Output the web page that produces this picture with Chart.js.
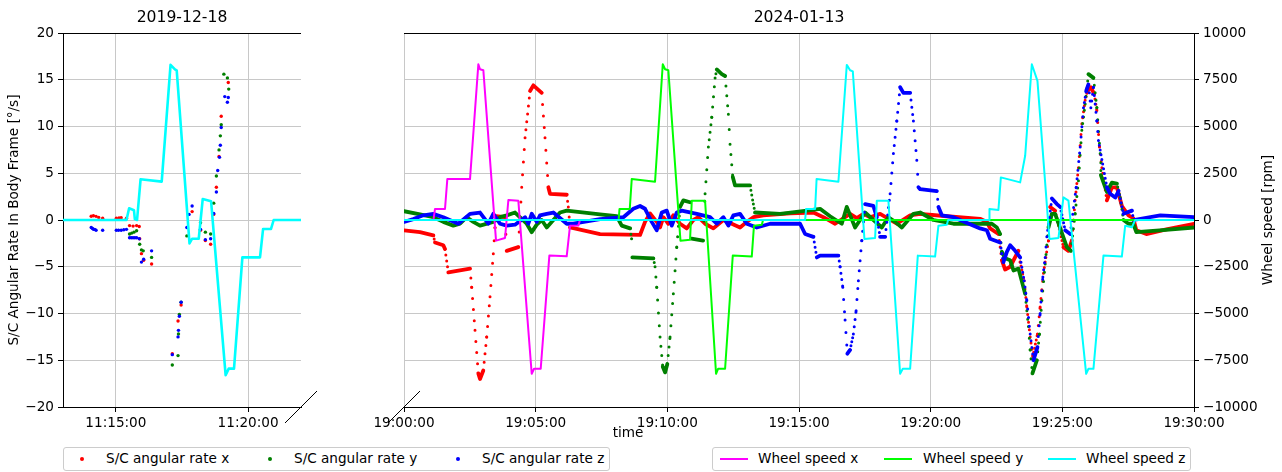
<!DOCTYPE html>
<html>
<head>
  <title>S/C angular rate and wheel speed</title>
  <script src="https://cdn.jsdelivr.net/npm/chart.js"></script>
  <style>
    body { margin: 0; width: 1282px; height: 472px; background: #fff; overflow: hidden; font-family: "DejaVu Sans", sans-serif; }
    .panel { position: absolute; top: 0; height: 440px; }
    .legend { position: absolute; top: 447px; height: 24px; box-sizing: border-box; border: 1px solid #cccccc; border-radius: 3px; background: #fff; }
    .legend span { position: absolute; top: 2px; font-size: 13.6px; line-height: 17px; white-space: nowrap; color: #000; }
    .legend .dot { position: absolute; top: 9px; width: 4px; height: 4px; border-radius: 50%; }
    .legend .line { position: absolute; top: 10px; width: 28px; height: 2px; }
    #xlabel { position: absolute; left: 598px; width: 60px; top: 424px; text-align: center; font-size: 13.6px; }
  </style>
</head>
<body>
  <div class="panel" style="left:0;width:330px"><canvas id="leftChart"></canvas></div>
  <div class="panel" style="left:340px;width:942px"><canvas id="rightChart"></canvas></div>
  <div id="xlabel">time</div>

  <!-- legends -->
  <div class="legend" style="left:63px;width:547px">
    <i class="dot" style="left:16px;background:#ff0000"></i><span style="left:42px">S/C angular rate x</span>
    <i class="dot" style="left:204px;background:#008000"></i><span style="left:230px">S/C angular rate y</span>
    <i class="dot" style="left:392px;background:#0000ff"></i><span style="left:418px">S/C angular rate z</span>
  </div>
  <div class="legend" style="left:712px;width:479px">
    <i class="line" style="left:7px;background:#ff00ff"></i><span style="left:45px">Wheel speed x</span>
    <i class="line" style="left:171px;background:#00ff00"></i><span style="left:210px">Wheel speed y</span>
    <i class="line" style="left:335px;background:#00ffff"></i><span style="left:373px">Wheel speed z</span>
  </div>

<script>
  // ---- 2019-12-18 panel (times in seconds after leftStart) ----
  const leftStart = '11:13:00';
  const leftEnd = 540;
  const leftTickLabels = ['11:15:00', '11:20:00'];

  const leftRateXT = [64, 69, 75, 81, 90, 121, 127, 132, 144, 151, 159, 167, 173, 174, 178, 183, 201, 248, 261, 268, 293, 312, 323, 335, 342, 348, 354, 359, 375];
  const leftRateX = [0.4, 0.46, 0.39, 0.28, 0.18, 0.2, 0.22, 0.25, 0.2, -0.6, -0.65, -0.6, -0.7, -2.0, -3.6, -4.3, -4.7, -14.3, -10.8, -9.1, 0.9, -1.1, -2.2, -2.6, 0.6, 3.5, 6.8, 11.1, 14.7];

  const leftRateYT = [151, 156, 161, 167, 174, 178, 182, 201, 248, 261, 262, 264, 268, 281, 312, 323, 335, 342, 348, 354, 357, 359, 365, 373, 376];
  const leftRateY = [-1.5, -1.4, -1.3, -1.15, -2.6, -3.2, -3.3, -4.0, -15.5, -14.5, -12.2, -10.1, -8.8, -1.7, -0.3, -1.3, -1.5, 1.8, 4.7, 7.5, 9.0, 10.2, 15.6, 15.2, 14.0];

  const leftRateZT = [64, 67, 69, 72, 75, 90, 121, 126, 132, 138, 144, 151, 155, 159, 163, 167, 173, 178, 183, 201, 248, 261, 262, 264, 268, 281, 286, 293, 312, 323, 335, 342, 348, 351, 355, 357, 359, 367, 373, 375];
  const leftRateZ = [-0.8, -0.9, -1.0, -1.0, -1.1, -1.1, -1.1, -1.1, -1.1, -1.05, -1.0, -1.9, -1.9, -1.9, -1.9, -1.9, -2.0, -4.5, -4.2, -3.3, -14.4, -12.5, -11.8, -10.3, -8.8, -0.8, 0.6, 1.5, -1.0, -2.1, -2.0, 0.7, 3.0, 5.3, 6.7, 8.0, 9.9, 13.2, 12.6, 13.1];

  const leftWheelZT = [0, 144, 150, 161, 163, 168, 176, 224, 244, 254, 258, 287, 293, 308, 317, 336, 369, 376, 388, 407, 447, 454, 472, 478, 540];
  const leftWheelZ = [0, 0, 625, 525, 50, 0, 2175, 2050, 8300, 8050, 8000, -1250, -1000, -1000, 1120, 1000, -8300, -7950, -7950, -2000, -2000, -480, -480, 0, 0];

  // ---- 2024-01-13 panel (times in seconds after rightStart) ----
  const rightStart = '19:00:00';
  const rightEnd = 1800;
  const rightTickLabels = ['19:00:00', '19:05:00', '19:10:00', '19:15:00', '19:20:00', '19:25:00', '19:30:00'];

  const rateXT = [0, 36.5, 66.8, 70.6, 89.6, 93.4, 101, 150.4, 154.3, 161.8,
    169.3, 173.2, 180.7, 188.5, 196, 203.5, 207.4, 209.7, 230.2, 234,
    260.5, 268.2, 275.8, 287.2, 294.7, 313.8, 321.3, 328.9, 332.7, 370.8,
    374.4, 378.3, 446.7, 537.8, 549.2, 560.6, 575.9, 583.4, 590.9, 602.3,
    613.7, 629, 644.3, 659.3, 670.7, 686, 704.9, 727.7, 765.7, 781,
    796, 818.8, 879.7, 932.8, 955.6, 982.3, 1016.4, 1031.7, 1046.8, 1062,
    1084.8, 1122.9, 1153.2, 1176, 1236.8, 1312.7, 1328, 1335.5, 1354.4, 1362.2,
    1369.7, 1381.1, 1400, 1403.9, 1413, 1419.1, 1426.7, 1432.8, 1443.3, 1449.4,
    1457, 1462.4, 1468.4, 1472.2, 1483.6, 1502.5, 1513.9, 1521.6, 1529.2, 1536.7,
    1544.4, 1552, 1557.2, 1565, 1572.5, 1578.7, 1584.6, 1590.1, 1601.5, 1612.9,
    1624.3, 1635.7, 1650.8, 1661.6, 1668.6, 1691.4, 1737, 1800];
  const rateX = [-1.1, -1.3, -1.65, -2.4, -2.7, -3.1, -5.6, -5.2, -7.2, -11.8,
    -16.4, -17.0, -16.1, -12.5, -8.2, -3.6, -0.8, 0.4, 0.3, -3.3,
    -2.9, 3.5, 8.8, 13.8, 14.4, 13.6, 8.8, 3.5, 2.8, 2.7,
    1.4, -0.8, -1.5, -1.6, -0.2, 0.7, -0.2, -0.8, 0.3, -0.4,
    0.5, -0.4, -0.9, 0, 0.3, -0.4, -0.9, 0, -0.8, -0.2,
    0.3, 0.5, 0.7, 0.8, 0.3, -0.4, 0.66, 0.2, 0.66, 0.3,
    0.66, -0.4, 0.5, 0.66, 0.4, 0.13, -0.2, -0.9, -1.5, -4.3,
    -5.3, -5.0, -3.3, -4.5, -6.5, -9.3, -12.5, -14.6, -12.2, -9.3,
    -5.7, -4.0, -2.2, 1.4, 1.0, -2.9, -3.3, -2.2, 2.1, 5.6,
    10.3, 12.8, 13.8, 14.2, 13.5, 11.7, 7.8, 5.6, 2.1, 3.5,
    3.5, 1.5, 0.5, 0.2, -1.1, -1.5, -1.0, -0.4];

  const rateYT = [0, 36.5, 66.8, 89.6, 112.4, 127.6, 142.9, 157.9, 173.2, 203.5,
    218.8, 234, 253, 279.6, 291, 302.4, 313.8, 325.2, 340.3, 355.5,
    370.8, 446.7, 484.7, 496.1, 515.1, 518.5, 520.3, 568.2, 572, 575.9,
    583.4, 589.6, 594.8, 600, 606.2, 613.7, 621.5, 629, 636.5, 651.8,
    655.2, 681.4, 686, 693.5, 701.3, 708.8, 712.7, 724.1, 731.6, 739.1,
    742.9, 749.1, 754.3, 788.5, 796, 799.9, 856.9, 917.7, 948, 970.8,
    997.5, 1008.9, 1027.8, 1050.6, 1088.7, 1103.7, 1119, 1134.3, 1160.7, 1176,
    1206.3, 1251.9, 1312.7, 1339.4, 1350.8, 1358.3, 1362.2, 1369.7, 1381.1, 1388.7,
    1400, 1415.3, 1422.8, 1426.7, 1431.9, 1442, 1447.9, 1453.4, 1460.9, 1468.4,
    1476.2, 1483.6, 1510.3, 1519.4, 1529.2, 1536.7, 1544.4, 1552, 1559.5, 1570.9,
    1578.7, 1586.2, 1587.8, 1601.5, 1612.9, 1624.3, 1631.9, 1639.4, 1650.8, 1661.6,
    1668.6, 1721.7, 1800];
  const rateY = [0.94, 0.6, 0.3, -0.2, -0.6, -0.4, 0.3, -0.2, -0.6, -0.2,
    0.3, 0.5, 0.8, -0.4, -1.3, -0.5, 0, -0.8, 0, 0.8,
    1.0, 0.6, 0.4, -0.6, -0.9, -2.0, -4.0, -4.1, -5.0, -7.2,
    -12.5, -15.7, -16.3, -15.4, -12.5, -7.9, -2.9, 1.4, 2.1, 1.9,
    -2.0, -2.2, 2.8, 7.8, 11.0, 15.2, 16.1, 15.6, 15.4, 11.3,
    8.1, 4.6, 3.7, 3.7, 1.7, 0.8, 0.66, 1.0, 1.2, 0.4,
    -0.4, 1.4, -0.8, 0.8, -0.8, 0.3, -0.2, -0.8, 0.66, 0.8,
    0, -0.4, -0.4, -0.4, -0.8, -1.5, -3.4, -4.1, -4.3, -5.4,
    -5.2, -7.9, -11.4, -13.9, -16.4, -15.0, -12.2, -8.6, -4.7, -0.8,
    0.66, 0.66, -2.9, -3.3, 0.7, 4.2, 9.6, 12.4, 15.6, 15.2,
    12.0, 7.1, 4.8, 3.0, 4.0, 3.9, 2.4, 0, -0.4, -0.4,
    -1.3, -1.1, -0.8];

  const rateZT = [0, 21.2, 44, 66.8, 89.6, 123.8, 150.4, 173.2, 192.1, 203.5,
    218.8, 234, 253, 275.8, 283.3, 291, 302.4, 309.9, 325.2, 340.3,
    370.8, 385.8, 446.7, 499.8, 522.5, 537.8, 549.2, 564.5, 575.9, 587.3,
    598.7, 610.1, 621.5, 632.9, 667.1, 697.4, 712.7, 727.7, 739.1, 750.5,
    765.7, 781, 803.8, 834.1, 902.5, 913.9, 932.8, 940.5, 948, 989.7,
    993.6, 999.8, 1005, 1010.2, 1016.4, 1023.9, 1030.1, 1035.3, 1043.1, 1050.6,
    1069.5, 1077.3, 1084.8, 1096.2, 1107.6, 1115.1, 1122.9, 1130.4, 1137.9, 1153.2,
    1160.7, 1168.4, 1172.1, 1176, 1214, 1217.7, 1225.5, 1251.9, 1312.7, 1328,
    1335.5, 1358.3, 1362.2, 1365.8, 1373.6, 1381.1, 1392.5, 1403.9, 1413, 1419.1,
    1426.7, 1434.3, 1443.3, 1449.4, 1455.6, 1460.9, 1464.7, 1476.2, 1487.6, 1495.1,
    1506.5, 1517.9, 1531.6, 1540.7, 1548.2, 1554.4, 1559.5, 1565, 1570.9, 1578.7,
    1582.3, 1601.5, 1609.1, 1620.5, 1628.1, 1639.4, 1658.6, 1662.3, 1723.2, 1800];
  const rateZ = [-0.2, 0.1, 0.5, 0.66, 0.3, -0.4, 0.66, 0.8, -0.4, 0.66,
    -0.4, -0.6, -0.5, 0.3, -0.4, 0.66, -0.2, 0.5, 0.66, 0.8,
    -0.4, -0.4, 0.1, 0.3, 1.2, 1.5, 1.2, -0.2, -1.1, 0.8,
    1.0, -0.6, 0.8, 1.0, 0.66, 0.3, -0.4, 0.3, -0.6, 0.5,
    0.66, -0.4, -0.8, -0.4, -0.4, -1.5, -1.8, -4.0, -3.8, -3.8,
    -5.0, -7.2, -10.7, -14.3, -13.9, -12.2, -9.7, -6.5, -2.2, 1.7,
    1.5, 0.3, -1.8, -1.8, 2.8, 7.1, 10.6, 14.2, 13.6, 13.6,
    10.6, 6.4, 3.5, 3.3, 3.1, 1.4, 0.5, 0.3, -0.9, -1.1,
    -2.0, -2.4, -3.6, -4.5, -3.4, -2.7, -3.3, -4.0, -6.5, -8.6,
    -12.2, -15.0, -13.6, -10.0, -6.1, -4.0, -1.8, 2.3, 1.7, 1.4,
    -1.1, -1.5, 3.5, 7.8, 12.0, 13.8, 14.5, 12.0, 14.2, 10.6,
    8.5, 3.5, 2.8, 2.4, 3.1, 0.66, 1.0, 0, 0.5, 0.3];

  const wheelXT = [0, 67, 70.6, 93.4, 98.7, 150.4, 169.4, 173.2, 180.8, 209.7, 230.2, 237.8, 260.5, 291, 296.3, 311.5, 331.2, 370.7, 378.3, 397.3, 401, 1800];
  const wheelX = [0, 0, 587, 587, 2189, 2189, 8330, 8063, 8010, -1104, -961, 1068, 1032, -8224, -7957, -7957, -1905, -1940, -303, -300, 0, 0];

  const wheelYT = [0, 489, 491, 514.4, 518.9, 572, 589.6, 594.8, 602.3, 629.9, 651.8, 655.7, 686, 711, 715.6, 731.6, 749.1, 792.4, 797.4, 815.2, 818.2, 1800];
  const wheelY = [0, 0, 587, 587, 2189, 2047, 8330, 8063, 8010, -1104, -1050, 1032, 1032, -8224, -7957, -7957, -1905, -1958, -303, -250, 0, 0];

  const wheelZT = [0, 913.9, 916.2, 936.7, 940.1, 989.8, 1008.9, 1016.4, 1022.6, 1049.1,
    1073.4, 1077.3, 1103.7, 1130.4, 1136.5, 1153.2, 1170.7, 1210.1, 1217.7, 1236.8,
    1239.8, 1333.2, 1334, 1354.4, 1359.9, 1403.9, 1415.3, 1430.5, 1443.3, 1470.6,
    1491.2, 1502.5, 1513.9, 1554.3, 1559.6, 1570.9, 1593.7, 1635.6, 1643.2, 1658.4,
    1666, 1800];
  const wheelZ = [0, 0, 587, 587, 2189, 2047, 8295, 8010, 7950, -1015,
    -961, 1032, 1032, -8224, -7957, -7957, -1905, -1958, -303, -250,
    0, 0, 587, 534, 2278, 2011, 3435, 8330, 7440, -1015,
    -961, 1210, 1032, -8224, -7957, -7957, -1905, -1958, -303, -392,
    0, 0];

  // ---- helpers ----
  const FONT = 'DejaVu Sans';
  Chart.defaults.font.family = FONT;
  Chart.defaults.font.size = 13.6;
  Chart.defaults.color = '#000';

  function toSec(s) {
    const p = s.split(':').map(Number);
    return p[0] * 3600 + p[1] * 60 + p[2];
  }
  function clock(sec) {
    sec = Math.round(sec);
    const h = Math.floor(sec / 3600), m = Math.floor(sec % 3600 / 60), s = sec % 60;
    return [h, m, s].map(n => String(n).padStart(2, '0')).join(':');
  }
  function zip(t, v) {
    return t.map((x, i) => ({ x: x, y: v[i] }));
  }
  const minus = v => v < 0 ? '\u2212' + (-v) : String(v);

  // the rates are sampled evenly in time: dots get spread out where the curve is steep
  const dotted = {
    borderDash: ctx => {
      const dx = Math.abs(ctx.p1.x - ctx.p0.x);
      const len = Math.hypot(dx, ctx.p1.y - ctx.p0.y);
      const gap = 0.85 * len / Math.max(dx, 0.2);
      return gap > 3.5 ? [0, gap] : undefined;
    },
    borderWidth: ctx => {
      const dx = Math.abs(ctx.p1.x - ctx.p0.x);
      const len = Math.hypot(dx, ctx.p1.y - ctx.p0.y);
      return 0.85 * len / Math.max(dx, 0.2) > 3.5 ? 3 : 3.8;
    }
  };

  // top spine, broken-axis mark, panel title and right axis label
  const panelDeco = {
    id: 'panelDeco',
    afterDraw(chart, args, opts) {
      const ctx = chart.ctx, a = chart.chartArea;
      ctx.save();
      ctx.strokeStyle = '#000';
      ctx.lineWidth = 1;
      ctx.beginPath();
      ctx.moveTo(a.left, Math.round(a.top) + 0.5);
      ctx.lineTo(a.right, Math.round(a.top) + 0.5);
      ctx.stroke();

      const cx = opts.cut === 'right' ? a.right : a.left;
      ctx.beginPath();
      ctx.moveTo(cx - 16, a.bottom + 16);
      ctx.lineTo(cx + 16, a.bottom - 16);
      ctx.stroke();

      ctx.fillStyle = '#000';
      ctx.textAlign = 'center';
      ctx.textBaseline = 'middle';
      ctx.font = '15.6px "' + FONT + '"';
      ctx.fillText(opts.title, (a.left + a.right) / 2, 18);

      if (opts.rightTitle) {
        ctx.font = '13.6px "' + FONT + '"';
        ctx.translate(chart.width - 14, (a.top + a.bottom) / 2);
        ctx.rotate(-Math.PI / 2);
        ctx.fillText(opts.rightTitle, 0, 0);
      }
      ctx.restore();
    }
  };

  const gridStyle = { color: '#c8c8c8', lineWidth: 1, tickColor: '#000', tickLength: 5, tickWidth: 1 };
  const axisBorder = { color: '#000', width: 1 };

  function timeAxis(start, end, labels) {
    const t0 = toSec(start);
    return {
      type: 'linear', min: 0, max: end,
      afterBuildTicks: s => { s.ticks = labels.map(l => ({ value: toSec(l) - t0 })); },
      ticks: { autoSkip: false, maxRotation: 0, padding: 3, callback: v => clock(t0 + v) },
      grid: gridStyle, border: axisBorder,
      afterFit: s => { s.height = 33; }
    };
  }

  const baseOptions = {
    responsive: true,
    maintainAspectRatio: false,
    animation: false,
    events: [],
    elements: { line: { tension: 0, borderCapStyle: 'round', borderJoinStyle: 'round' }, point: { radius: 0 } }
  };

  // ---- left panel ----
  function rateDots(t, v, color, order) {
    return { data: zip(t, v), yAxisID: 'y', showLine: false, pointRadius: 1.7, pointBorderWidth: 0,
      pointBackgroundColor: color, borderColor: color, order: order };
  }

  new Chart(document.getElementById('leftChart'), {
    type: 'line',
    data: {
      datasets: [
        rateDots(leftRateXT, leftRateX, '#ff0000', 5),
        rateDots(leftRateYT, leftRateY, '#008000', 4),
        rateDots(leftRateZT, leftRateZ, '#0000ff', 3),
        { data: zip(leftWheelZT, leftWheelZ), yAxisID: 'y2', borderColor: '#00ffff', borderWidth: 2.6, order: 0 }
      ]
    },
    options: Object.assign({}, baseOptions, {
      layout: { padding: { top: 33, right: 29, bottom: 0, left: 0 } },
      plugins: { legend: { display: false }, tooltip: { enabled: false },
        panelDeco: { title: '2019-12-18', cut: 'right' } },
      scales: {
        x: timeAxis(leftStart, leftEnd, leftTickLabels),
        y: {
          min: -20, max: 20,
          ticks: { stepSize: 5, padding: 4, callback: minus },
          grid: gridStyle, border: axisBorder,
          title: { display: true, text: 'S/C Angular Rate In Body Frame [°/s]', padding: { top: 6, bottom: 0 } },
          afterFit: s => { s.width = 63; }
        },
        y2: { display: false, min: -10000, max: 10000 }
      }
    }),
    plugins: [panelDeco]
  });

  // ---- right panel ----
  function rateLine(t, v, color, order) {
    return { data: zip(t, v), yAxisID: 'y', borderColor: color, borderWidth: 3.8, order: order, segment: dotted };
  }
  function wheelLine(t, v, color, order) {
    return { data: zip(t, v), yAxisID: 'y2', borderColor: color, borderWidth: 2, order: order };
  }

  new Chart(document.getElementById('rightChart'), {
    type: 'line',
    data: {
      datasets: [
        rateLine(rateXT, rateX, '#ff0000', 5),
        rateLine(rateYT, rateY, '#008000', 4),
        rateLine(rateZT, rateZ, '#0000ff', 3),
        wheelLine(wheelXT, wheelX, '#ff00ff', 2),
        wheelLine(wheelYT, wheelY, '#00ff00', 1),
        wheelLine(wheelZT, wheelZ, '#00ffff', 0)
      ]
    },
    options: Object.assign({}, baseOptions, {
      layout: { padding: { top: 33, right: 0, bottom: 0, left: 64 } },
      plugins: { legend: { display: false }, tooltip: { enabled: false },
        panelDeco: { title: '2024-01-13', cut: 'left', rightTitle: 'Wheel speed [rpm]' } },
      scales: {
        x: timeAxis(rightStart, rightEnd, rightTickLabels),
        y: {
          min: -20, max: 20,
          ticks: { stepSize: 5, display: false },
          grid: { color: '#c8c8c8', lineWidth: 1, drawTicks: false },
          border: { display: false },
          afterFit: s => { s.width = 0; }
        },
        y2: {
          position: 'right', min: -10000, max: 10000,
          ticks: { stepSize: 2500, padding: 4, callback: minus },
          grid: Object.assign({}, gridStyle, { drawOnChartArea: false }),
          border: axisBorder,
          afterFit: s => { s.width = 88; }
        }
      }
    }),
    plugins: [panelDeco]
  });
</script>
</body>
</html>
